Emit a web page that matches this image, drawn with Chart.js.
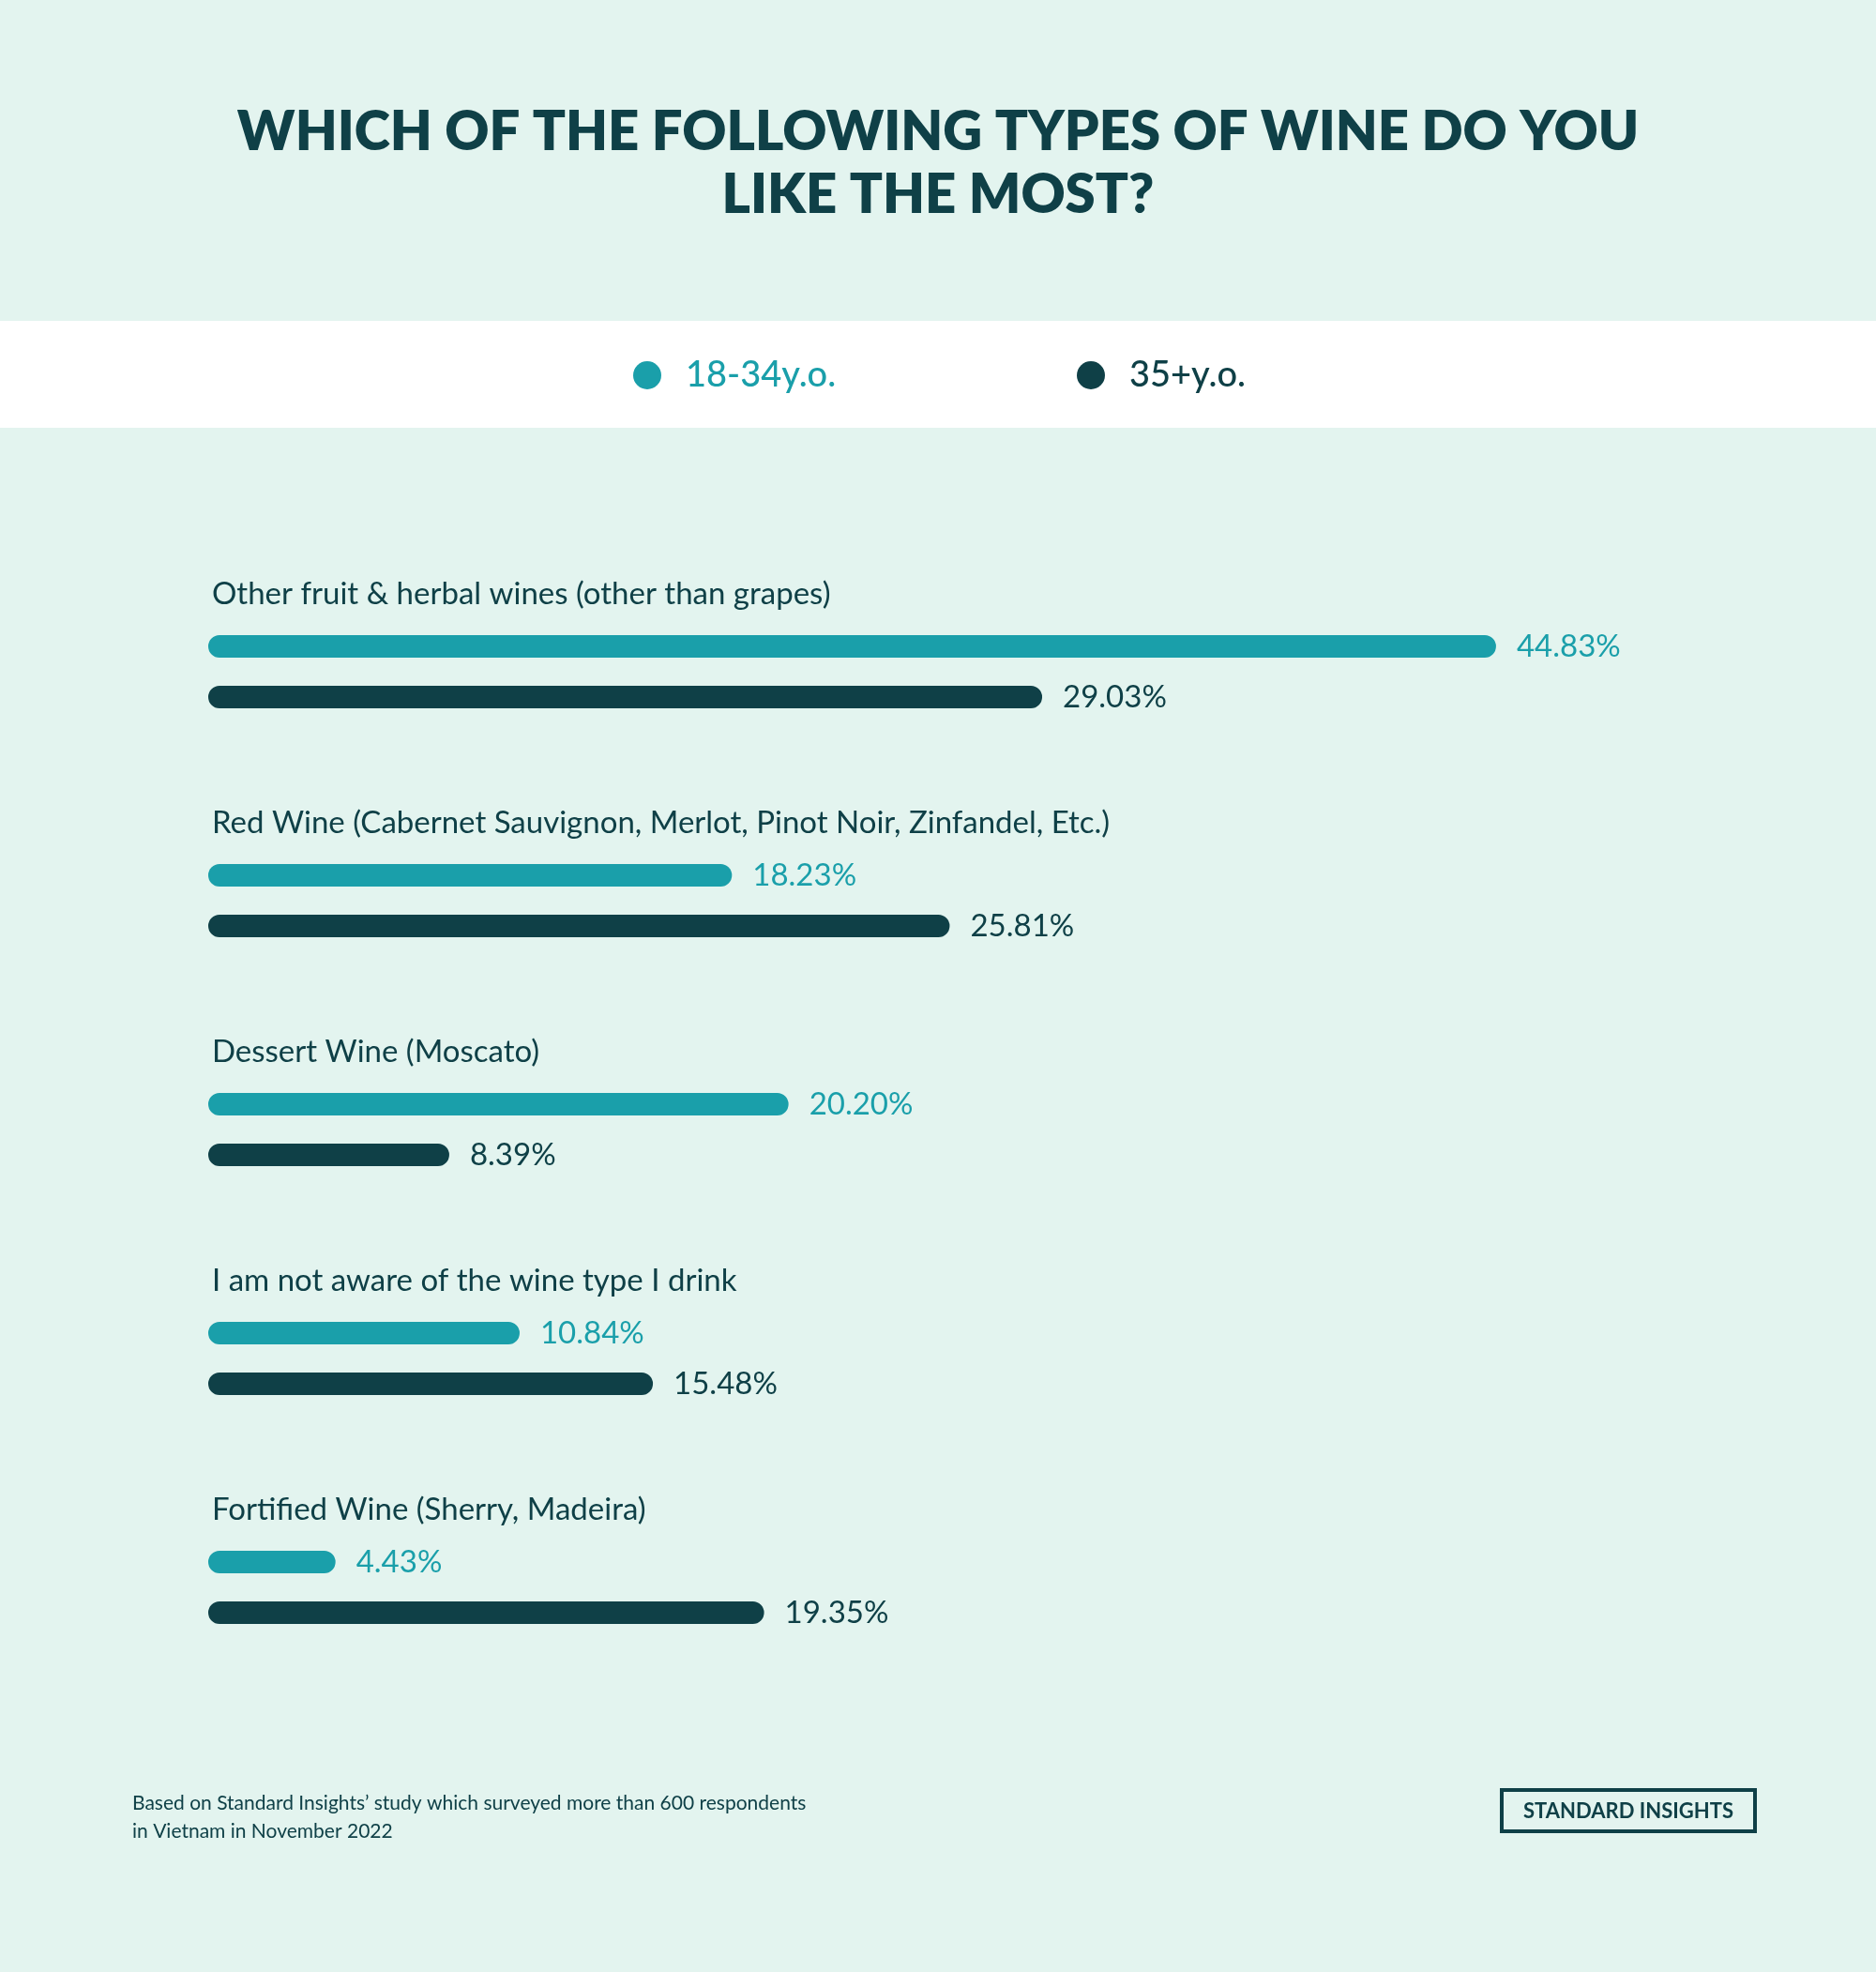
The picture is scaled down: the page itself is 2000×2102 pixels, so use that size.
<!DOCTYPE html>
<html>
<head>
<meta charset="utf-8">
<script src="https://cdn.jsdelivr.net/npm/chart.js@4.4.0/dist/chart.umd.min.js"></script>
<style>
  html, body { margin: 0; padding: 0; background: #e3f4ef; }
  canvas { display: block; }
</style>
</head>
<body>
<canvas id="wineChart" width="2000" height="2102"></canvas>
<script>
const categories = [
  'Other fruit & herbal wines (other than grapes)',
  'Red Wine (Cabernet Sauvignon, Merlot, Pinot Noir, Zinfandel, Etc.)',
  'Dessert Wine (Moscato)',
  'I am not aware of the wine type I drink',
  'Fortified Wine (Sherry, Madeira)'
];
const young = [44.83, 18.23, 20.20, 10.84, 4.43];
const older = [29.03, 25.81, 8.39, 15.48, 19.35];
const seriesNames = ['18-34y.o.', '35+y.o.'];
const titleLines = ['WHICH OF THE FOLLOWING TYPES OF WINE DO YOU', 'LIKE THE MOST?'];
const footnote = [
  'Based on Standard Insights\u2019 study which surveyed more than 600 respondents',
  'in Vietnam in November 2022'
];
const brand = 'STANDARD INSIGHTS';

const TEAL = '#1a9faa';
const DARK = '#0f4047';
const BG = '#e3f4ef';
const FONT = 'Lato, "Open Sans", sans-serif';

// backgrounds, title, legend band and footer
const backdrop = {
  id: 'backdrop',
  beforeDraw(chart) {
    const c = chart.ctx;
    c.save();
    c.fillStyle = BG;
    c.fillRect(0, 0, chart.width, chart.height);
    c.fillStyle = '#ffffff';
    c.fillRect(0, 342, chart.width, 114);
    c.restore();
  },
  afterDraw(chart) {
    const c = chart.ctx;
    c.save();
    // title
    c.fillStyle = DARK;
    c.textAlign = 'center';
    c.textBaseline = 'middle';
    c.font = '800 58px ' + FONT;
    c.fillText(titleLines[0], 1000, 141);
    c.fillText(titleLines[1], 1000, 208);

    // legend
    const legendX = [690, 1163];
    chart.data.datasets.forEach((ds, i) => {
      c.fillStyle = ds.backgroundColor;
      c.beginPath();
      c.arc(legendX[i], 400, 15, 0, Math.PI * 2);
      c.fill();
      c.textAlign = 'left';
      c.font = '500 38px ' + FONT;
      c.fillText(ds.label, legendX[i] + 41, 400);
    });

    // footnote
    c.fillStyle = DARK;
    c.textAlign = 'left';
    c.font = '21px ' + FONT;
    c.fillText(footnote[0], 141, 1922);
    c.fillText(footnote[1], 141, 1952);

    // brand box
    c.strokeStyle = DARK;
    c.lineWidth = 4;
    c.strokeRect(1601, 1908, 270, 44);
    c.textAlign = 'center';
    c.font = 'bold 22px ' + FONT;
    c.fillText(brand, 1736, 1931);
    c.restore();
  }
};

// category names above each pair of bars, value labels after each bar
const barText = {
  id: 'barText',
  afterDatasetsDraw(chart) {
    const c = chart.ctx;
    const yScale = chart.scales.y;
    c.save();
    c.textBaseline = 'middle';
    c.textAlign = 'left';
    c.fillStyle = DARK;
    c.font = '33px ' + FONT;
    chart.data.labels.forEach((lab, i) => {
      c.fillText(lab, chart.chartArea.left + 4, yScale.getPixelForValue(i) - 83);
    });
    c.font = '33px ' + FONT;
    chart.data.datasets.forEach((ds, di) => {
      c.fillStyle = ds.backgroundColor;
      chart.getDatasetMeta(di).data.forEach((bar, i) => {
        c.fillText(ds.data[i].toFixed(2) + '%', bar.x + 22, bar.y);
      });
    });
    c.restore();
  }
};

new Chart(document.getElementById('wineChart'), {
  type: 'bar',
  data: {
    labels: categories,
    datasets: [
      { label: seriesNames[0], data: young, backgroundColor: TEAL },
      { label: seriesNames[1], data: older, backgroundColor: DARK }
    ]
  },
  options: {
    indexAxis: 'y',
    responsive: false,
    animation: false,
    devicePixelRatio: 1,
    layout: { padding: { top: 594, bottom: 288, left: 222, right: 308 } },
    datasets: {
      bar: {
        categoryPercentage: 0.4426,
        barPercentage: 0.444,
        borderRadius: 20,
        borderSkipped: false
      }
    },
    scales: {
      x: { display: false, min: 0, max: 48 },
      y: { display: false }
    },
    plugins: {
      legend: { display: false },
      tooltip: { enabled: false }
    }
  },
  plugins: [backdrop, barText]
});
</script>
</body>
</html>
